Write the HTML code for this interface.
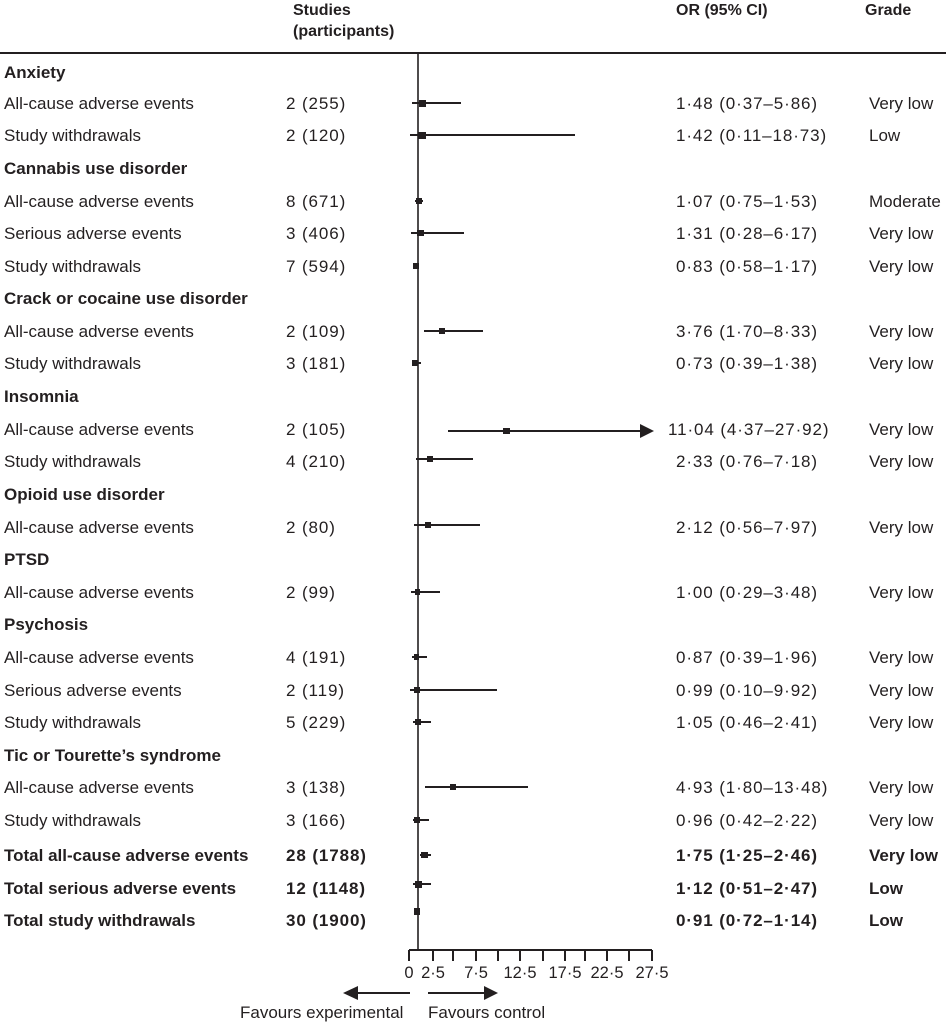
<!DOCTYPE html>
<html><head><meta charset="utf-8"><style>
html,body{margin:0;padding:0;background:#fff;}
svg{display:block;font-family:"Liberation Sans",sans-serif;font-size:17px;fill:#231f20;}
.b{font-weight:bold;}
.n{letter-spacing:0.9px;}
</style></head><body>
<svg width="946" height="1024" viewBox="0 0 946 1024">
<g class="b" font-size="16">
<text x="293" y="15">Studies</text>
<text x="293" y="36">(participants)</text>
<text x="676" y="15">OR (95% CI)</text>
<text x="865" y="15">Grade</text>
</g>
<line x1="0" y1="53" x2="946" y2="53" stroke="#231f20" stroke-width="2"/>
<line x1="418" y1="53" x2="418" y2="950" stroke="#231f20" stroke-width="1.6"/>
<g>
<text class="b" x="4" y="78">Anxiety</text>
<text x="4" y="109">All-cause adverse events</text><text class="n" x="286" y="109">2 (255)</text><text class="n" x="676" y="109">1·48 (0·37–5·86)</text><text x="869" y="109">Very low</text>
<text x="4" y="141">Study withdrawals</text><text class="n" x="286" y="141">2 (120)</text><text class="n" x="676" y="141">1·42 (0·11–18·73)</text><text x="869" y="141">Low</text>
<text class="b" x="4" y="174">Cannabis use disorder</text>
<text x="4" y="207">All-cause adverse events</text><text class="n" x="286" y="207">8 (671)</text><text class="n" x="676" y="207">1·07 (0·75–1·53)</text><text x="869" y="207">Moderate</text>
<text x="4" y="239">Serious adverse events</text><text class="n" x="286" y="239">3 (406)</text><text class="n" x="676" y="239">1·31 (0·28–6·17)</text><text x="869" y="239">Very low</text>
<text x="4" y="272">Study withdrawals</text><text class="n" x="286" y="272">7 (594)</text><text class="n" x="676" y="272">0·83 (0·58–1·17)</text><text x="869" y="272">Very low</text>
<text class="b" x="4" y="304">Crack or cocaine use disorder</text>
<text x="4" y="337">All-cause adverse events</text><text class="n" x="286" y="337">2 (109)</text><text class="n" x="676" y="337">3·76 (1·70–8·33)</text><text x="869" y="337">Very low</text>
<text x="4" y="369">Study withdrawals</text><text class="n" x="286" y="369">3 (181)</text><text class="n" x="676" y="369">0·73 (0·39–1·38)</text><text x="869" y="369">Very low</text>
<text class="b" x="4" y="402">Insomnia</text>
<text x="4" y="435">All-cause adverse events</text><text class="n" x="286" y="435">2 (105)</text><text class="n" x="668" y="435">11·04 (4·37–27·92)</text><text x="869" y="435">Very low</text>
<text x="4" y="467">Study withdrawals</text><text class="n" x="286" y="467">4 (210)</text><text class="n" x="676" y="467">2·33 (0·76–7·18)</text><text x="869" y="467">Very low</text>
<text class="b" x="4" y="500">Opioid use disorder</text>
<text x="4" y="533">All-cause adverse events</text><text class="n" x="286" y="533">2 (80)</text><text class="n" x="676" y="533">2·12 (0·56–7·97)</text><text x="869" y="533">Very low</text>
<text class="b" x="4" y="565">PTSD</text>
<text x="4" y="598">All-cause adverse events</text><text class="n" x="286" y="598">2 (99)</text><text class="n" x="676" y="598">1·00 (0·29–3·48)</text><text x="869" y="598">Very low</text>
<text class="b" x="4" y="630">Psychosis</text>
<text x="4" y="663">All-cause adverse events</text><text class="n" x="286" y="663">4 (191)</text><text class="n" x="676" y="663">0·87 (0·39–1·96)</text><text x="869" y="663">Very low</text>
<text x="4" y="696">Serious adverse events</text><text class="n" x="286" y="696">2 (119)</text><text class="n" x="676" y="696">0·99 (0·10–9·92)</text><text x="869" y="696">Very low</text>
<text x="4" y="728">Study withdrawals</text><text class="n" x="286" y="728">5 (229)</text><text class="n" x="676" y="728">1·05 (0·46–2·41)</text><text x="869" y="728">Very low</text>
<text class="b" x="4" y="761">Tic or Tourette’s syndrome</text>
<text x="4" y="793">All-cause adverse events</text><text class="n" x="286" y="793">3 (138)</text><text class="n" x="676" y="793">4·93 (1·80–13·48)</text><text x="869" y="793">Very low</text>
<text x="4" y="826">Study withdrawals</text><text class="n" x="286" y="826">3 (166)</text><text class="n" x="676" y="826">0·96 (0·42–2·22)</text><text x="869" y="826">Very low</text>
<g class="b">
<text x="4" y="861">Total all-cause adverse events</text><text class="n" x="286" y="861">28 (1788)</text><text class="n" x="676" y="861">1·75 (1·25–2·46)</text><text x="869" y="861">Very low</text>
<text x="4" y="894">Total serious adverse events</text><text class="n" x="286" y="894">12 (1148)</text><text class="n" x="676" y="894">1·12 (0·51–2·47)</text><text x="869" y="894">Low</text>
<text x="4" y="926">Total study withdrawals</text><text class="n" x="286" y="926">30 (1900)</text><text class="n" x="676" y="926">0·91 (0·72–1·14)</text><text x="869" y="926">Low</text>
</g>
</g>
<g stroke="#231f20" stroke-width="2">
<line x1="412" y1="103" x2="461" y2="103"/>
<line x1="410" y1="135" x2="575" y2="135"/>
<line x1="415" y1="201" x2="423" y2="201"/>
<line x1="411" y1="233" x2="464" y2="233"/>
<line x1="414" y1="266" x2="419" y2="266"/>
<line x1="424" y1="331" x2="483" y2="331"/>
<line x1="412" y1="363" x2="421" y2="363"/>
<line x1="448" y1="431" x2="642" y2="431"/>
<line x1="416" y1="459" x2="473" y2="459"/>
<line x1="414" y1="525" x2="480" y2="525"/>
<line x1="411" y1="592" x2="440" y2="592"/>
<line x1="412" y1="657" x2="427" y2="657"/>
<line x1="410" y1="690" x2="497" y2="690"/>
<line x1="413" y1="722" x2="431" y2="722"/>
<line x1="425" y1="787" x2="528" y2="787"/>
<line x1="413" y1="820" x2="429" y2="820"/>
<line x1="420" y1="855" x2="431" y2="855"/>
<line x1="413" y1="884" x2="431" y2="884"/>
<line x1="409" y1="950" x2="652" y2="950"/>
<line x1="409" y1="950" x2="409" y2="961"/><line x1="433" y1="950" x2="433" y2="961"/><line x1="453" y1="950" x2="453" y2="961"/><line x1="476" y1="950" x2="476" y2="961"/><line x1="498" y1="950" x2="498" y2="961"/><line x1="520" y1="950" x2="520" y2="961"/><line x1="543" y1="950" x2="543" y2="961"/><line x1="565" y1="950" x2="565" y2="961"/><line x1="585" y1="950" x2="585" y2="961"/><line x1="607" y1="950" x2="607" y2="961"/><line x1="629" y1="950" x2="629" y2="961"/><line x1="652" y1="950" x2="652" y2="961"/>
<line x1="358" y1="993" x2="410" y2="993"/>
<line x1="428" y1="993" x2="484" y2="993"/>
</g>
<g fill="#231f20">
<rect x="419" y="100" width="7" height="7"/>
<rect x="418" y="132" width="8" height="7"/>
<rect x="416" y="198" width="6" height="6"/>
<rect x="417" y="230" width="7" height="6"/>
<rect x="413" y="263" width="6" height="6"/>
<rect x="439" y="328" width="6" height="6"/>
<rect x="412" y="360" width="6" height="6"/>
<rect x="503" y="428" width="7" height="6"/>
<rect x="427" y="456" width="6" height="6"/>
<rect x="425" y="522" width="6" height="6"/>
<rect x="415" y="589" width="5" height="6"/>
<rect x="414" y="654" width="5" height="6"/>
<rect x="414" y="687" width="6" height="6"/>
<rect x="415" y="719" width="6" height="6"/>
<rect x="450" y="784" width="6" height="6"/>
<rect x="414" y="817" width="6" height="6"/>
<rect x="421" y="852" width="7" height="6"/>
<rect x="415" y="881" width="7" height="7"/>
<rect x="414" y="908" width="6" height="7"/>
<polygon points="640,424 654,431 640,438"/>
<polygon points="358,986 343,993 358,1000"/>
<polygon points="484,986 498,993 484,1000"/>
</g>
<g font-size="16.5" text-anchor="middle">
<text x="409" y="978">0</text><text x="433" y="978">2·5</text><text x="476" y="978">7·5</text><text x="520" y="978">12·5</text><text x="565" y="978">17·5</text><text x="607" y="978">22·5</text><text x="652" y="978">27·5</text>
</g>
<text x="240" y="1018">Favours experimental</text>
<text x="428" y="1018">Favours control</text>
</svg>
</body></html>
